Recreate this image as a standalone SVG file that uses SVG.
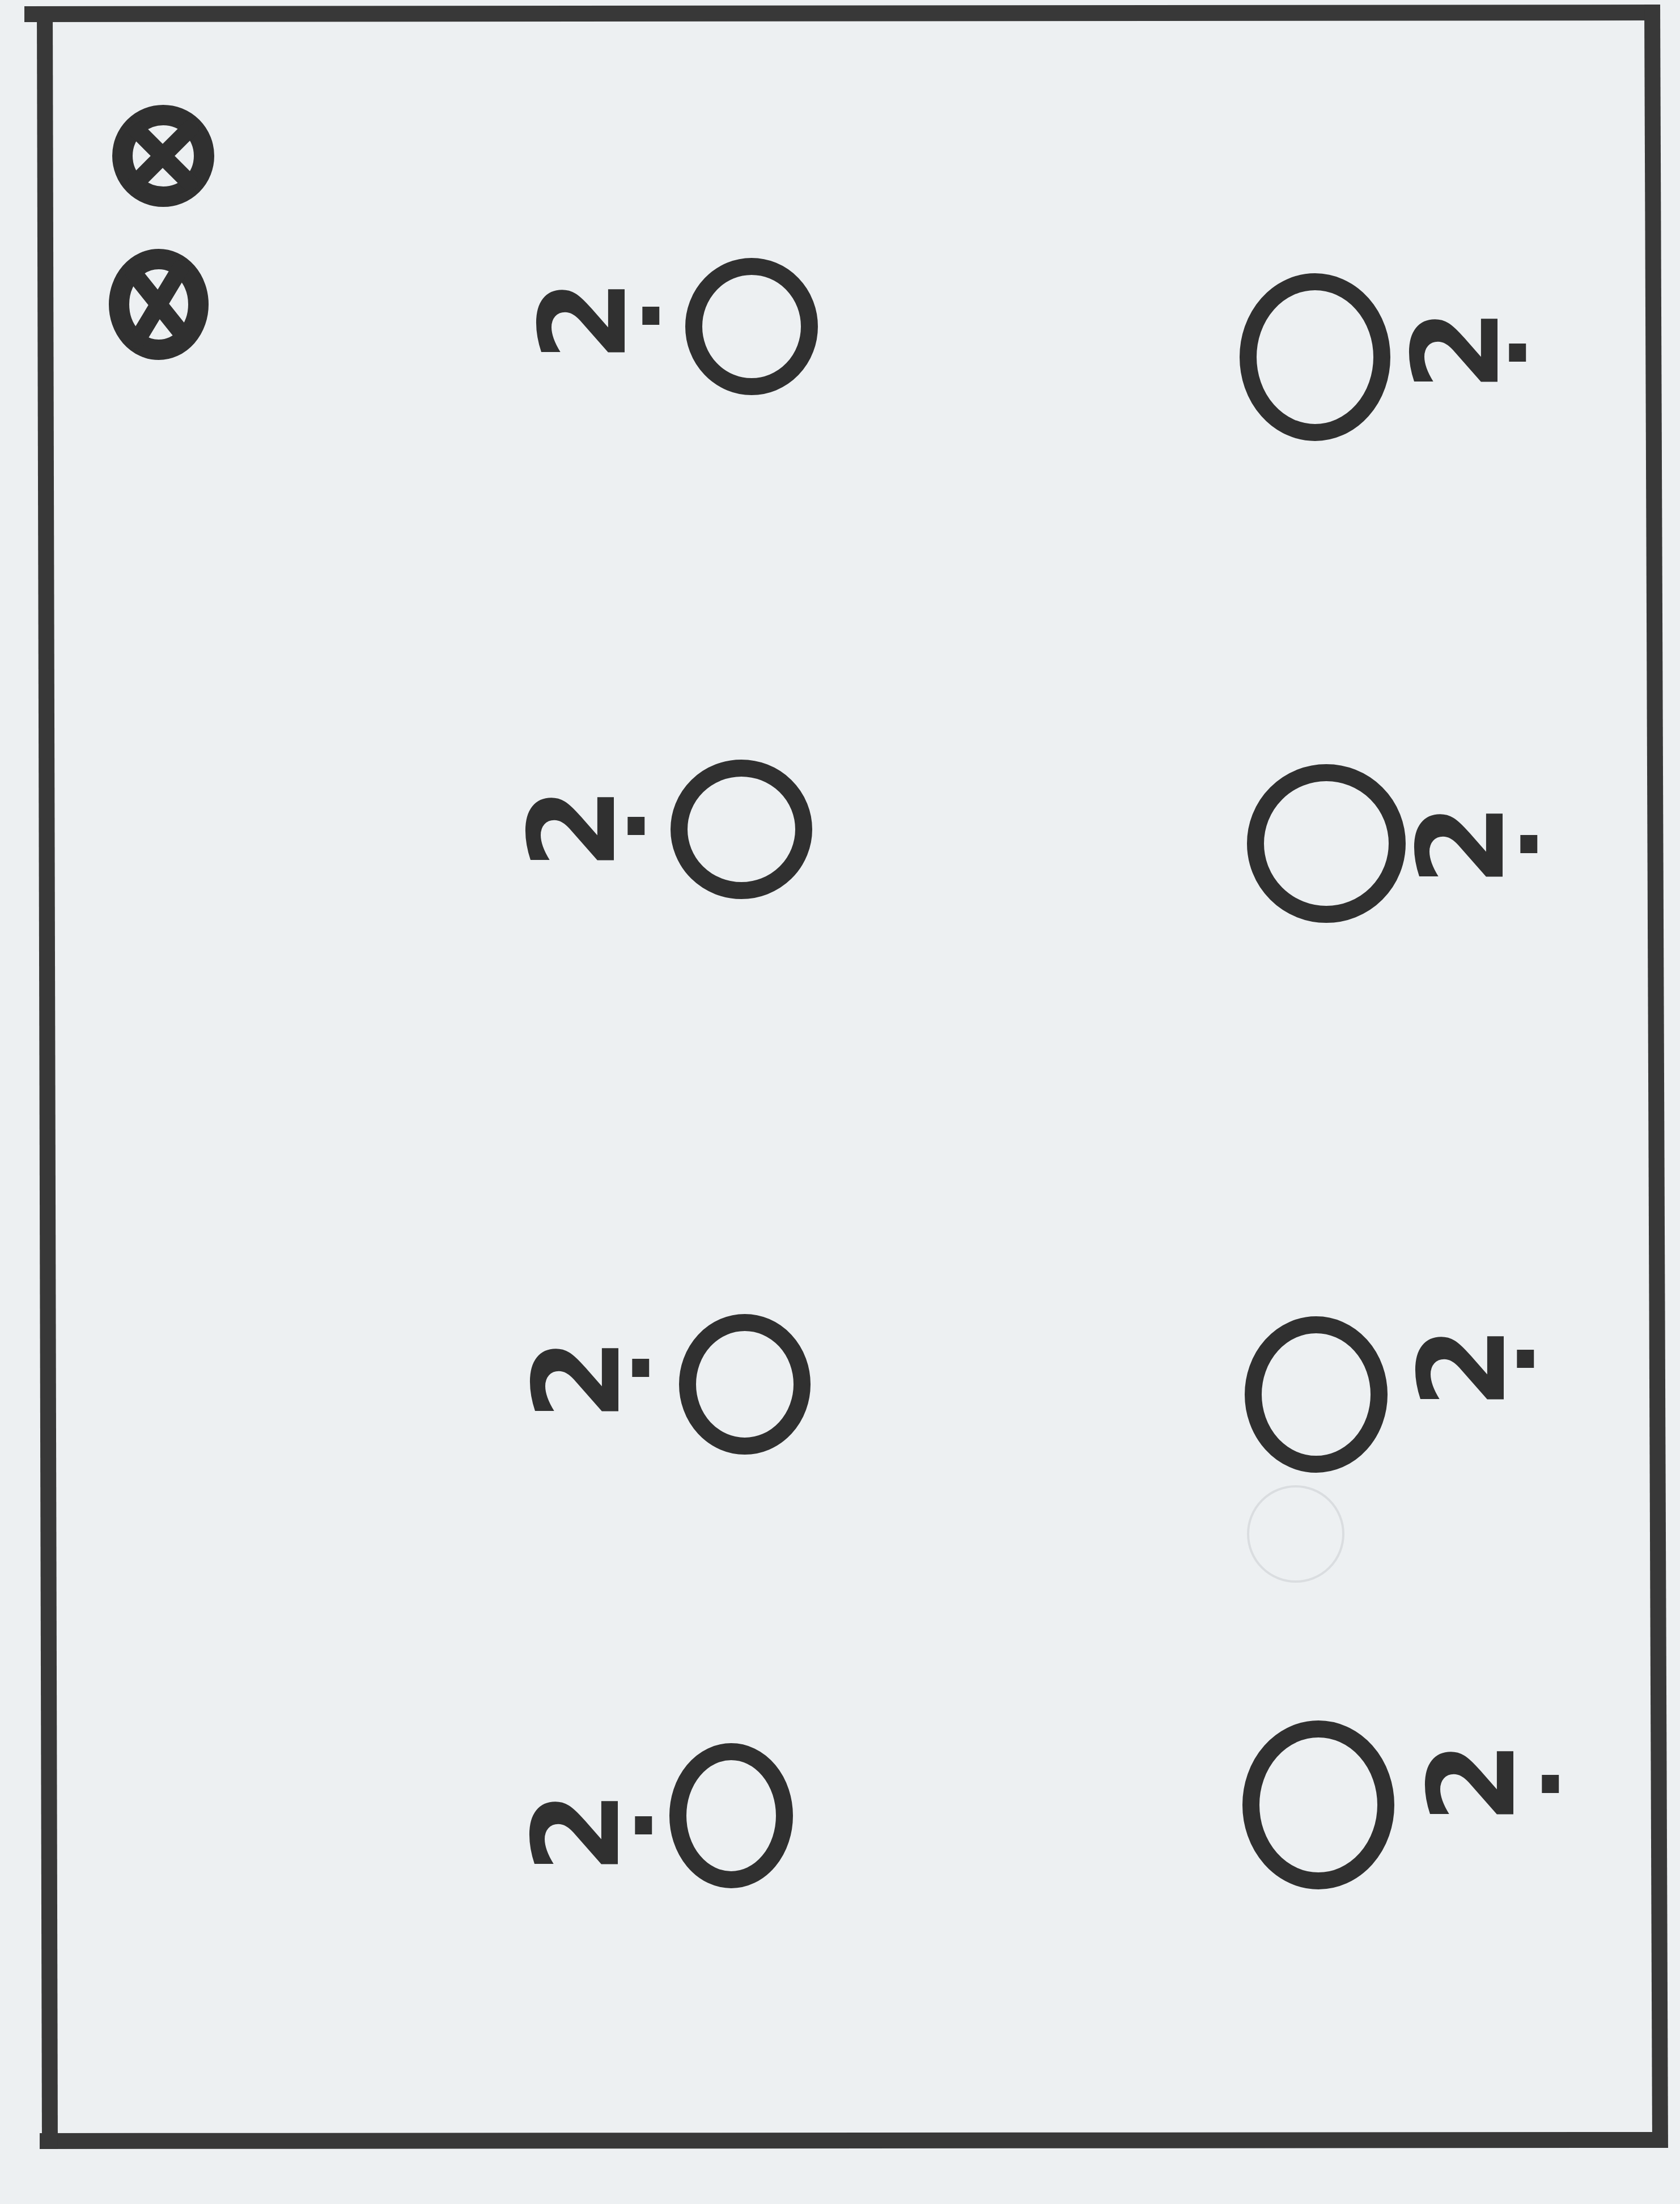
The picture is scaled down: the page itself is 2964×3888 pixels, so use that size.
<svg xmlns="http://www.w3.org/2000/svg" width="2964" height="3888" viewBox="0 0 2964 3888">
<style>
.ink{fill:none;stroke:#303030;stroke-linecap:round;stroke-linejoin:round}
.ring{stroke-width:30}
.frame{stroke-width:28;stroke:#383838;fill:none;stroke-linecap:butt}
.xring{stroke-width:36}
.xbar{stroke-width:30}
.lbl{font-family:"DejaVu Sans","Liberation Sans",sans-serif;font-weight:bold;font-size:210px;fill:#303030}
.dot{font-family:"DejaVu Sans","Liberation Sans",sans-serif;font-weight:bold;font-size:170px;fill:#303030}
.ghost{fill:none;stroke:#dadde0;stroke-width:4}
</style>
<rect x="0" y="0" width="2964" height="3888" fill="#edf0f2"/>
<g id="frame">
<path class="frame" d="M43 25 L2929 22"/>
<path class="frame" d="M2915 8 L2929 3789"/>
<path class="frame" d="M70 3777 L2940 3775"/>
<path class="frame" d="M79 11 L88 3791"/>
</g>
<g id="ghosts">
<ellipse class="ghost" cx="2286" cy="2706" rx="84" ry="84"/>
</g>
<g id="symbol-x1">
<ellipse class="ink xring" cx="288" cy="275" rx="72" ry="72"/>
<path class="ink xbar" d="M336 226 L240 322 M240 228 L334 322"/>
</g>
<g id="symbol-x2">
<ellipse class="ink xring" cx="280" cy="537" rx="70" ry="80"/>
<path class="ink xbar" d="M236 482 L324 592 M318 474 L242 600"/>
</g>
<g id="node-r1-left">
<ellipse class="ink ring" cx="1326" cy="576" rx="102" ry="106"/>
<text class="lbl" x="1102" y="638" transform="rotate(-90 1102 638)">2</text>
<text class="dot" x="1116" y="573">.</text>
</g>
<g id="node-r1-right">
<ellipse class="ink ring" cx="2320" cy="630" rx="118" ry="133"/>
<text class="lbl" x="2642" y="690" transform="rotate(-90 2642 690)">2</text>
<text class="dot" x="2645" y="638">.</text>
</g>
<g id="node-r2-left">
<ellipse class="ink ring" cx="1308" cy="1463" rx="110" ry="108"/>
<text class="lbl" x="1083" y="1534" transform="rotate(-90 1083 1534)">2</text>
<text class="dot" x="1090" y="1473">.</text>
</g>
<g id="node-r2-right">
<ellipse class="ink ring" cx="2340" cy="1488" rx="125" ry="125"/>
<text class="lbl" x="2651" y="1563" transform="rotate(-90 2651 1563)">2</text>
<text class="dot" x="2665" y="1505">.</text>
</g>
<g id="node-r3-left">
<ellipse class="ink ring" cx="1314" cy="2442" rx="101" ry="109"/>
<text class="lbl" x="1091" y="2506" transform="rotate(-90 1091 2506)">2</text>
<text class="dot" x="1098" y="2429">.</text>
</g>
<g id="node-r3-right">
<ellipse class="ink ring" cx="2322" cy="2460" rx="111" ry="123"/>
<text class="lbl" x="2653" y="2485" transform="rotate(-90 2653 2485)">2</text>
<text class="dot" x="2659" y="2413">.</text>
</g>
<g id="node-r4-left">
<ellipse class="ink ring" cx="1290" cy="3203" rx="94" ry="113"/>
<text class="lbl" x="1090" y="3305" transform="rotate(-90 1090 3305)">2</text>
<text class="dot" x="1103" y="3236">.</text>
</g>
<g id="node-r4-right">
<ellipse class="ink ring" cx="2326" cy="3184" rx="119" ry="134"/>
<text class="lbl" x="2670" y="3217" transform="rotate(-90 2670 3217)">2</text>
<text class="dot" x="2703" y="3163">.</text>
</g>
</svg>
